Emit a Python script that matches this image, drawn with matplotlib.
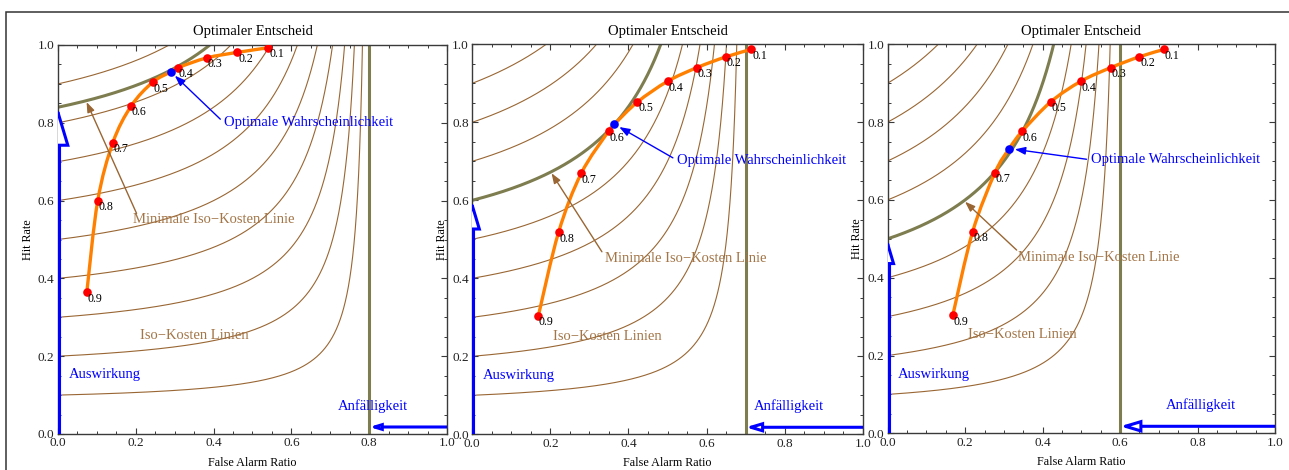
import numpy as np
import matplotlib
matplotlib.use('Agg')
import matplotlib.pyplot as plt
from matplotlib.path import Path
from matplotlib.patches import PathPatch, FancyArrowPatch, Rectangle, ArrowStyle
from matplotlib.ticker import MultipleLocator

plt.rcParams['font.family'] = ['Liberation Serif', 'DejaVu Serif']

# ---------------- data ----------------
threshold_labels = ['0.1', '0.2', '0.3', '0.4', '0.5', '0.6', '0.7', '0.8', '0.9']

roc_far_p1 = [0.541, 0.461, 0.383, 0.309, 0.243, 0.188, 0.141, 0.102, 0.074]
roc_hit_p1 = [0.993, 0.981, 0.967, 0.942, 0.904, 0.843, 0.749, 0.599, 0.364]
roc_far_p2 = [0.715, 0.650, 0.575, 0.500, 0.423, 0.349, 0.279, 0.221, 0.169]
roc_hit_p2 = [0.987, 0.968, 0.940, 0.905, 0.852, 0.777, 0.669, 0.518, 0.303]
roc_far_p3 = [0.714, 0.650, 0.576, 0.499, 0.421, 0.347, 0.277, 0.219, 0.168]
roc_hit_p3 = [0.987, 0.968, 0.940, 0.905, 0.852, 0.776, 0.670, 0.517, 0.303]

opt_far = [0.290, 0.364, 0.314]
opt_hit = [0.931, 0.795, 0.732]

asymptote_far = [0.8, 0.7, 0.6]       # vulnerability line (Anfälligkeit)
min_iso_level = [0.84, 0.6, 0.5]      # impact (Auswirkung) = start of minimal iso-cost line
iso_levels = [0.1, 0.2, 0.3, 0.4, 0.5, 0.6, 0.7, 0.8, 0.9]

title_text = 'Optimaler Entscheid'
xlabel_text = 'False Alarm Ratio'
ylabel_text = 'Hit Rate'
opt_text = 'Optimale Wahrscheinlichkeit'
min_text = 'Minimale Iso\u2212Kosten Linie'
iso_text = 'Iso\u2212Kosten Linien'
impact_text = 'Auswirkung'
vuln_text = 'Anfälligkeit'

# ---------------- layout / style ----------------
W, H = 1289, 470
axes_px = [(58, 434, 389, 389), (472.3, 434.3, 390.4, 390), (887.7, 433.3, 387.3, 389)]
opt_text_pos = [(0.427, 0.80), (0.524, 0.703), (0.524, 0.703)]
min_text_pos = [(0.40, 0.552), (0.547, 0.451), (0.546, 0.451)]
min_arrow_start = [(0.202, 0.567), (0.332, 0.468), (0.333, 0.471)]
min_arrow_tip_far = [0.072, 0.201, 0.197]
iso_text_pos = [(0.35, 0.252), (0.347, 0.252), (0.347, 0.253)]
impact_text_pos = (0.027, 0.152)
vuln_text_pos = (0.81, 0.072)
vuln_arrow_y = 0.018

BROWN = (0.6, 0.4, 0.2)
BROWN_TEXT = (0.64, 0.46, 0.28)
OLIVE = '#7d7d50'
ORANGE = (1.0, 0.5, 0.0)
BLUE = (0.0, 0.0, 1.0)
RED = (1.0, 0.0, 0.0)
SPINE = '#3a3a3a'


def iso_curve(c, a, n=4000):
    r = (1 - a) / a
    k_top = (1 - c / 1.02) / r
    f_top = k_top / (1 + k_top)
    F = np.linspace(0, f_top, n)
    Hh = c / (1 - r * F / (1 - F))
    return F, Hh


def iso_value(c, a, F):
    r = (1 - a) / a
    return c / (1 - r * F / (1 - F))


def smooth_path(xs, ys):
    P = np.column_stack([xs, ys])
    n = len(P)
    verts = [P[0]]
    codes = [Path.MOVETO]
    for i in range(n - 1):
        p0 = P[i - 1] if i > 0 else P[i]
        p1 = P[i]
        p2 = P[i + 1]
        p3 = P[i + 2] if i + 2 < n else P[i + 1]
        c1 = p1 + (p2 - p0) / 6.0
        c2 = p2 - (p3 - p1) / 6.0
        verts += [c1, c2, p2]
        codes += [Path.CURVE4] * 3
    return Path(np.array(verts), codes)


fig = plt.figure(figsize=(W / 100, H / 100), dpi=100)

# outer frame
fig.patches.append(Rectangle((6 / W, -0.2), 1.2, (1 - 12 / H) + 0.2, transform=fig.transFigure,
                             fill=False, ec='#333333', lw=1.1, zorder=0))

rocs = [(roc_far_p1, roc_hit_p1), (roc_far_p2, roc_hit_p2), (roc_far_p3, roc_hit_p3)]

for k in range(3):
    lx, by, wpx, hpx = axes_px[k]
    ax = fig.add_axes([lx / W, 1 - by / H, wpx / W, hpx / H])
    a = asymptote_far[k]
    cmin = min_iso_level[k]

    # iso-cost lines
    for c in iso_levels:
        F, Hh = iso_curve(c, a)
        ax.plot(F, Hh, color=BROWN, lw=0.8, zorder=1)
    # minimal iso-cost line
    F, Hh = iso_curve(cmin, a)
    ax.plot(F, Hh, color=OLIVE, lw=2.2, zorder=2)
    # vulnerability asymptote
    ax.plot([a, a], [0, 1], color=OLIVE, lw=2.2, zorder=2)

    # ROC curve (through thresholds and optimum)
    rf, rh = rocs[k]
    xs = list(rf) + [opt_far[k]]
    ys = list(rh) + [opt_hit[k]]
    order = np.argsort(xs)
    xs = np.array(xs)[order]
    ys = np.array(ys)[order]
    ax.add_patch(PathPatch(smooth_path(xs, ys), fc='none', ec=ORANGE, lw=2.4, zorder=3,
                           capstyle='round'))
    ax.plot(rf, rh, 'o', color=RED, ms=6.2, mew=0, zorder=4)
    ax.plot([opt_far[k]], [opt_hit[k]], 'o', color=BLUE, ms=6.2, mew=0, zorder=5)
    for f, h, lab in zip(rf, rh, threshold_labels):
        ax.annotate(lab, (f, h), xytext=(0.5, -4.5), textcoords='offset points',
                    ha='left', va='center', fontsize=8.6, color='black', zorder=6)

    # impact arrow (vertical, at x=0)
    hl = 0.1 * cmin * hpx * 0.72
    ax.plot([0, 0], [0, cmin * 0.9], color=BLUE, lw=4.4, zorder=6, solid_capstyle='butt')
    arr = FancyArrowPatch((0, 0), (0, cmin),
                          arrowstyle=ArrowStyle('-|>', head_length=hl, head_width=0.3 * hl),
                          mutation_scale=1, fc='white', ec=BLUE, lw=2.2, zorder=6,
                          shrinkA=0, shrinkB=0, joinstyle='miter')
    ax.add_patch(arr)
    # vulnerability arrow (horizontal)
    hl2 = 0.1 * (1 - a) * wpx * 0.72
    arr2 = FancyArrowPatch((1.0, vuln_arrow_y), (a, vuln_arrow_y),
                           arrowstyle=ArrowStyle('-|>', head_length=hl2, head_width=0.3 * hl2),
                           mutation_scale=1, fc='white', ec=BLUE, lw=2.2, zorder=6,
                           shrinkA=0, shrinkB=0, joinstyle='miter')
    ax.add_patch(arr2)

    # texts
    ax.annotate(opt_text, xy=(opt_far[k], opt_hit[k]), xytext=opt_text_pos[k],
                ha='left', va='center', fontsize=10.5, color=BLUE, zorder=7,
                arrowprops=dict(arrowstyle='-|>,head_length=0.6,head_width=0.22', color=BLUE,
                                lw=1.0, relpos=(0, 0.5), shrinkA=1, shrinkB=4))
    ax.text(*min_text_pos[k], min_text, ha='center', va='center', fontsize=10.5,
            color=BROWN_TEXT, zorder=7)
    tipF = min_arrow_tip_far[k]
    ax.annotate('', xy=(tipF, iso_value(cmin, a, tipF)), xytext=min_arrow_start[k],
                arrowprops=dict(arrowstyle='-|>,head_length=0.6,head_width=0.22', color=BROWN,
                                lw=1.0, shrinkA=0, shrinkB=1), zorder=7)
    ax.text(*iso_text_pos[k], iso_text, ha='center', va='center', fontsize=10.5,
            color=BROWN_TEXT, zorder=7)
    ax.text(*impact_text_pos, impact_text, ha='left', va='center', fontsize=10.5,
            color=BLUE, zorder=7)
    ax.text(*vuln_text_pos, vuln_text, ha='center', va='center', fontsize=10.5,
            color=BLUE, zorder=7)

    ax.set_xlim(0, 1)
    ax.set_ylim(0, 1)
    ax.set_title(title_text, fontsize=10.5, pad=7)
    ax.set_xlabel(xlabel_text, fontsize=8.7, labelpad=5.5)
    ax.set_ylabel(ylabel_text, fontsize=8.7, labelpad=3)
    ax.xaxis.set_major_locator(MultipleLocator(0.2))
    ax.yaxis.set_major_locator(MultipleLocator(0.2))
    ax.xaxis.set_minor_locator(MultipleLocator(0.05))
    ax.yaxis.set_minor_locator(MultipleLocator(0.05))
    ax.xaxis.set_major_formatter(matplotlib.ticker.FormatStrFormatter('%.1f'))
    ax.yaxis.set_major_formatter(matplotlib.ticker.FormatStrFormatter('%.1f'))
    ax.tick_params(which='both', direction='in', top=True, right=True, colors=SPINE,
                   labelcolor='#222222', labelsize=9.5, pad=2.5)
    ax.tick_params(which='major', length=4, width=0.8)
    ax.tick_params(which='minor', length=2.2, width=0.7)
    for s in ax.spines.values():
        s.set_color(SPINE)
        s.set_linewidth(1.0)

fig.savefig('out.png', dpi=100)
